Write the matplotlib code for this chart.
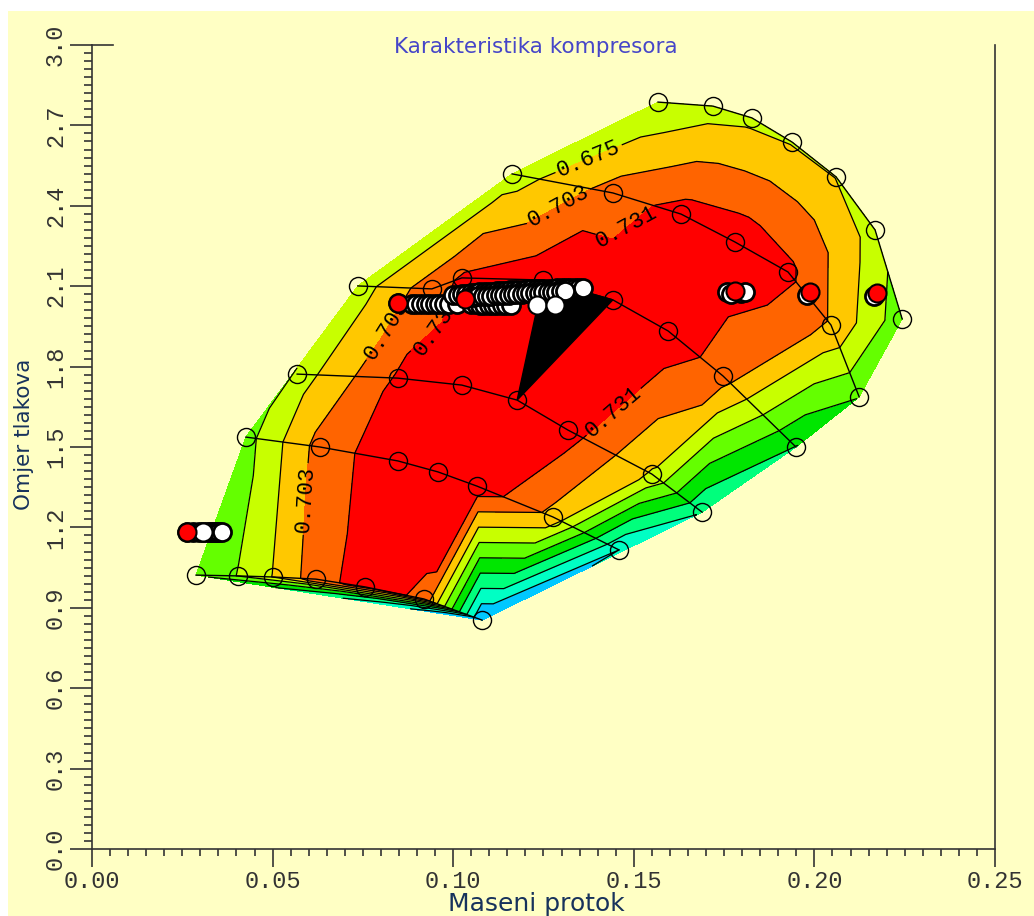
import numpy as np
import matplotlib.pyplot as plt
import matplotlib.tri as mtri
from matplotlib.ticker import MultipleLocator, FormatStrFormatter

# constant speed lines: mass flow [-], pressure ratio [-], efficiency [-]
line_a_x = [0.0288, 0.0404, 0.0501, 0.0620, 0.0756, 0.0919, 0.1080]
line_a_y = [1.022, 1.019, 1.015, 1.007, 0.978, 0.933, 0.854]
line_a_eta = [0.624, 0.648, 0.676, 0.718, 0.745, 0.725, 0.505]

line_b_x = [0.0426, 0.0631, 0.0847, 0.0958, 0.1066, 0.1276, 0.1459]
line_b_y = [1.537, 1.500, 1.448, 1.407, 1.354, 1.239, 1.116]
line_b_eta = [0.636, 0.714, 0.752, 0.755, 0.750, 0.695, 0.535]

line_c_x = [0.0568, 0.0847, 0.1024, 0.1177, 0.1318, 0.1550, 0.1689]
line_c_y = [1.772, 1.757, 1.731, 1.675, 1.563, 1.399, 1.257]
line_c_eta = [0.660, 0.735, 0.752, 0.758, 0.744, 0.672, 0.565]

line_d_x = [0.0736, 0.0941, 0.1024, 0.1249, 0.1442, 0.1595, 0.1747, 0.1949]
line_d_y = [2.101, 2.090, 2.131, 2.123, 2.049, 1.933, 1.765, 1.500]
line_d_eta = [0.660, 0.720, 0.735, 0.752, 0.752, 0.752, 0.716, 0.590]

line_e_x = [0.1163, 0.1442, 0.1631, 0.1780, 0.1927, 0.2046, 0.2124]
line_e_y = [2.519, 2.448, 2.369, 2.265, 2.153, 1.955, 1.687]
line_e_eta = [0.660, 0.715, 0.742, 0.750, 0.738, 0.700, 0.620]

line_f_x = [0.1567, 0.1719, 0.1827, 0.1938, 0.2060, 0.2168, 0.2243]
line_f_y = [2.787, 2.772, 2.728, 2.638, 2.508, 2.310, 1.978]
line_f_eta = [0.650, 0.662, 0.668, 0.673, 0.674, 0.662, 0.630]

speed_lines = [(line_a_x, line_a_y, line_a_eta), (line_b_x, line_b_y, line_b_eta),
               (line_c_x, line_c_y, line_c_eta), (line_d_x, line_d_y, line_d_eta),
               (line_e_x, line_e_y, line_e_eta), (line_f_x, line_f_y, line_f_eta)]

# triangle with no interpolated value (drawn black): D4, C4, D5
hole_x = [line_d_x[3], line_c_x[3], line_d_x[4]]
hole_y = [line_d_y[3], line_c_y[3], line_d_y[4]]

eta_levels = [0.535, 0.563, 0.591, 0.619, 0.647, 0.675, 0.703, 0.731]
band_colors = ['#00c8ff', '#00ffc4', '#00ff7c', '#00e600', '#64ff00',
               '#c8ff00', '#ffc800', '#ff6400', '#ff0000']

# contour label positions
label_pos = {0.675: [(0.1365, 2.608)],
             0.703: [(0.1282, 2.422), (0.0590, 1.306), (0.0839, 1.918)],
             0.731: [(0.1440, 2.384), (0.1440, 1.638), (0.0977, 1.918)]}

# operating point history (white) and current points (red)
hist1_x = [0.0263, 0.0280, 0.0295, 0.0307, 0.0318, 0.0326, 0.0333, 0.0340, 0.0347, 0.0353, 0.0359]
hist1_y = [1.183, 1.183, 1.183, 1.183, 1.183, 1.183, 1.183, 1.183, 1.183, 1.183, 1.183]
hist2_x = [0.0847, 0.0885, 0.0898, 0.0911, 0.0924, 0.0937, 0.0950, 0.0962, 0.0975, 0.0988,
           0.1010, 0.1050, 0.1062, 0.1074, 0.1086, 0.1098, 0.1110, 0.1122, 0.1134, 0.1146, 0.1160]
hist2_y = [2.037, 2.035, 2.035, 2.034, 2.034, 2.034, 2.033, 2.033, 2.033, 2.033,
           2.032, 2.032, 2.032, 2.031, 2.031, 2.031, 2.031, 2.030, 2.030, 2.030, 2.030]
hist3_x = [0.1000, 0.1012, 0.1024, 0.1036, 0.1048, 0.1060, 0.1072, 0.1084, 0.1096, 0.1108,
           0.1120, 0.1132, 0.1144, 0.1156, 0.1168, 0.1180, 0.1192, 0.1204, 0.1216, 0.1228,
           0.1240, 0.1252, 0.1264, 0.1276, 0.1288, 0.1300, 0.1312, 0.1324, 0.1336, 0.1348, 0.1358]
hist3_y = [2.066, 2.068, 2.070, 2.072, 2.074, 2.075, 2.077, 2.078, 2.079, 2.080,
           2.081, 2.082, 2.083, 2.084, 2.085, 2.086, 2.087, 2.088, 2.088, 2.089,
           2.090, 2.090, 2.091, 2.091, 2.092, 2.093, 2.093, 2.094, 2.094, 2.095, 2.095]
hist3b_x = [0.1046, 0.1058, 0.1070, 0.1082, 0.1094, 0.1106, 0.1118, 0.1130, 0.1142, 0.1154,
            0.1166, 0.1178, 0.1190, 0.1202, 0.1214, 0.1226, 0.1238, 0.1250, 0.1262, 0.1274,
            0.1286, 0.1298, 0.1310]
hist3b_y = [2.060, 2.061, 2.062, 2.063, 2.064, 2.065, 2.066, 2.067, 2.068, 2.069,
            2.070, 2.071, 2.072, 2.073, 2.074, 2.075, 2.076, 2.077, 2.078, 2.079,
            2.080, 2.081, 2.082]
hist4_x = [0.1758, 0.1769, 0.1797, 0.1808, 0.1980, 0.2165]
hist4_y = [2.078, 2.071, 2.075, 2.080, 2.067, 2.063]
white_x = [0.0307, 0.1232, 0.1282]
white_y = [1.183, 2.030, 2.030]
red_x = [0.0263, 0.0847, 0.1033, 0.1780, 0.1988, 0.2173]
red_y = [1.183, 2.037, 2.052, 2.082, 2.078, 2.075]

bg = '#ffffc4'
fig = plt.figure(figsize=(10.34, 9.16), dpi=100, facecolor='white')
fig.patches.append(plt.Rectangle((8 / 1034, 0), 1, 1 - 11 / 916, transform=fig.transFigure,
                                 facecolor=bg, edgecolor='none', zorder=-10))
ax = fig.add_axes([0.08897, 0.07314, 0.87331, 0.87773])
ax.set_facecolor('none')
ax.set_xlim(0, 0.25)
ax.set_ylim(0, 3.0)

x_all = np.concatenate([s[0] for s in speed_lines])
y_all = np.concatenate([s[1] for s in speed_lines])
z_all = np.concatenate([s[2] for s in speed_lines])
# Delaunay in screen proportions, then used in data units
tri_screen = mtri.Triangulation(x_all / 0.25 * 903, y_all / 3.0 * 804)
tri = mtri.Triangulation(x_all, y_all, triangles=tri_screen.triangles)

ax.tricontourf(tri, z_all, levels=[0.3] + eta_levels + [0.9], colors=band_colors, zorder=1)
for lev in eta_levels:
    cs = ax.tricontour(tri, z_all, levels=[lev], colors='black', linewidths=0.9, zorder=2)
    if lev in label_pos:
        texts = ax.clabel(cs, fontsize=16, fmt='%.3f', colors='black', inline=True,
                          inline_spacing=4, manual=label_pos[lev])
        for t in texts:
            t.set_family('Liberation Mono')
ax.fill(hole_x, hole_y, color='black', zorder=2)

for sx, sy, _ in speed_lines:
    ax.plot(sx, sy, '-', color='black', lw=1, marker='o', ms=13, mfc='none',
            mec='black', mew=1, zorder=3)

for hx, hy in [(hist1_x, hist1_y), (hist2_x, hist2_y), (hist3_x, hist3_y),
               (hist3b_x, hist3b_y), (hist4_x, hist4_y)]:
    for px, py in zip(hx, hy):
        ax.plot(px, py, marker='o', ms=13, mfc='white', mec='black', mew=2.0,
                ls='none', zorder=4)
pt = dict(marker='o', ms=13, mec='black', mew=1.5, ls='none', zorder=4)
ax.plot(white_x, white_y, mfc='white', **pt)
ax.plot(red_x, red_y, mfc='#ff0000', **pt)

ax.xaxis.set_major_locator(MultipleLocator(0.05))
ax.xaxis.set_minor_locator(MultipleLocator(0.005))
ax.yaxis.set_major_locator(MultipleLocator(0.3))
ax.yaxis.set_minor_locator(MultipleLocator(0.03))
ax.xaxis.set_major_formatter(FormatStrFormatter('%.2f'))
ax.yaxis.set_major_formatter(FormatStrFormatter('%.1f'))

ink = '#333333'
ax.tick_params(which='both', direction='out', width=1.2, color=ink)
ax.tick_params(axis='y', which='major', length=16, pad=2)
ax.tick_params(axis='y', which='minor', length=5.8)
ax.tick_params(axis='x', which='major', length=13, pad=2)
ax.tick_params(axis='x', which='minor', length=5)
ax.tick_params(axis='both', labelsize=17, labelcolor=ink)
for lab in ax.get_xticklabels() + ax.get_yticklabels():
    lab.set_family('Liberation Mono')
for lab in ax.get_yticklabels():
    lab.set_rotation(90)
    lab.set_va('center')

ax.spines['top'].set_visible(False)
for s in ['left', 'bottom', 'right']:
    ax.spines[s].set_color(ink)
    ax.spines[s].set_linewidth(1.2)
ax.axhline(3.0, 0, 0.023, color=ink, lw=1.2, clip_on=False)

fig.text(536 / 1034, 1 - 47 / 916, 'Karakteristika kompresora', ha='center', va='center',
         fontsize=15.5, color='#4646c8', family='DejaVu Sans')
fig.text(536 / 1034, 1 - 904 / 916, 'Maseni protok', ha='center', va='center',
         fontsize=18, color='#17325c', family='DejaVu Sans')
fig.text(24 / 1034, 1 - 434 / 916, 'Omjer tlakova', ha='center', va='center', rotation=90,
         fontsize=15.5, color='#17325c', family='DejaVu Sans')

fig.savefig('out.png', dpi=100, facecolor=fig.get_facecolor())
